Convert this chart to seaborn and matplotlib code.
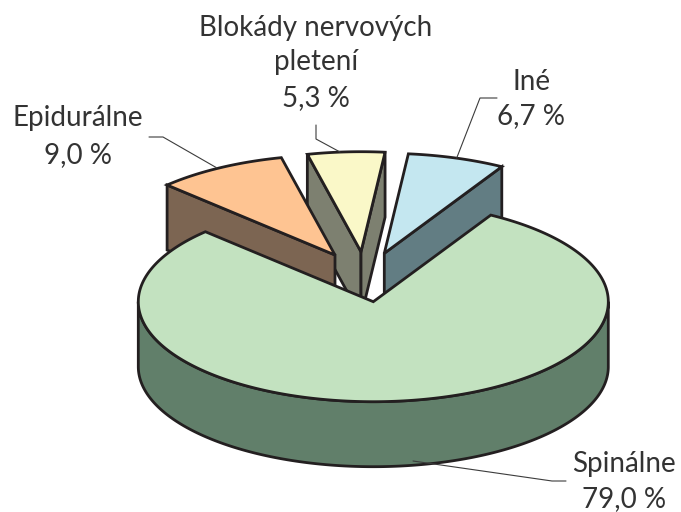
import numpy as np
import matplotlib
matplotlib.use("Agg")
import matplotlib.pyplot as plt
from matplotlib.patches import Polygon
import seaborn as sns

# data
categories = ["Iné", "Blokády nervových\npletení", "Epidurálne", "Spinálne"]
shares = [6.7, 5.3, 9.0, 79.0]
value_labels = ["6,7 %", "5,3 %", "9,0 %", "79,0 %"]

# style / layout
top_colors = ["#C4E7F0", "#FAF8C8", "#FEC492", "#C3E2C0"]
side_colors = ["#627D83", "#7D8070", "#7C6552", "#617F6A"]
tips = [(384.3, 253.3), (361, 251.7), (335, 255), (373.3, 301.7)]
faces = [("end0",), ("end1", "end0"), ("end1",), ()]
draw_order = [1, 0, 2, 3]
START = 60.0
RX, RY, DEPTH = 235.0, 100.0, 65.0
EDGE = "#231F20"
LW = 2.0

sns.set_theme(style="white")
plt.rcParams["font.family"] = ["Lato", "DejaVu Sans"]

fig = plt.figure(figsize=(6.81, 5.12), dpi=100)
ax = fig.add_axes([0, 0, 1, 1])
ax.set_xlim(0, 681)
ax.set_ylim(512, 0)
ax.axis("off")

bounds = START + np.cumsum([0] + shares) * 3.6


def rim(tip, a0, a1):
    t = np.radians(np.linspace(a0, a1, max(int(abs(a1 - a0)) * 2, 2)))
    return np.column_stack([tip[0] + RX * np.cos(t), tip[1] - RY * np.sin(t)])


def poly(pts, fc, z):
    ax.add_patch(Polygon(pts, closed=True, fc=fc, ec=EDGE, lw=LW,
                         joinstyle="miter", zorder=z))


z = 1
for i in draw_order:
    tip = np.array(tips[i])
    a0, a1 = bounds[i], bounds[i + 1]
    arc = rim(tip, a0, a1)
    drop = np.array([0, DEPTH])
    for f in faces[i]:
        p = arc[0] if f == "end0" else arc[-1]
        poly([tip, p, p + drop, tip + drop], side_colors[i], z)
        z += 1
    if i == 3:  # front rim of the large slice
        front = rim(tip, 180, 360)
        poly(np.vstack([front, (front + drop)[::-1]]), side_colors[i], z)
        z += 1
    poly(np.vstack([tip, arc]), top_colors[i], z)
    z += 1

leaders = [
    ([456.7, 480, 497], [158, 98, 98]),
    ([340, 316, 316], [152, 139, 125]),
    ([217, 163, 149], [168, 137, 137]),
    ([413, 552, 566], [461, 481, 481]),
]
for xs, ys in leaders:
    ax.plot(xs, ys, color="#3C3C3C", lw=0.8, zorder=50)

TXT = "#333333"
FS = 20
name_pos = [(532, 82), (316, 45), (78, 118), (624, 464)]
val_pos = [(531, 116), (316, 98), (78, 155), (624, 499)]
for name, val, np_, vp in zip(categories, value_labels, name_pos, val_pos):
    ax.text(*np_, name, ha="center", va="center", fontsize=FS, color=TXT,
            linespacing=1.4, zorder=60)
    ax.text(*vp, val, ha="center", va="center", fontsize=FS, color=TXT, zorder=60)

fig.savefig("out.png", dpi=100)
